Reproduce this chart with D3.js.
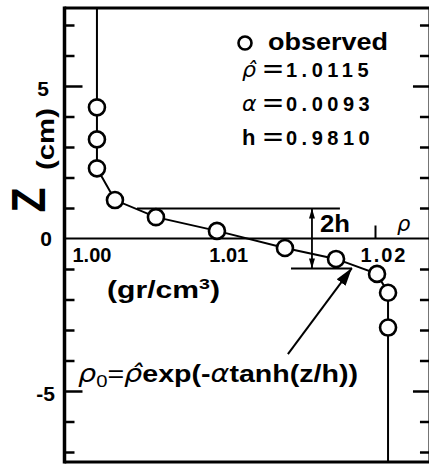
<!DOCTYPE html>
<html>
<head>
<meta charset="utf-8">
<script src="https://cdn.jsdelivr.net/npm/d3@7"></script>
<style>
  body { margin: 0; background: #fff; }
  svg { display: block; }
  text { font-family: "Liberation Sans", Arial, sans-serif; font-weight: bold; fill: #000; }
  .sym { font-family: "DejaVu Sans", sans-serif; font-style: italic; font-weight: normal; }
</style>
</head>
<body>
<svg id="chart" width="429" height="465"></svg>
<script>
// Observed density profile across the interface
const obsRho = [1.00209, 1.00209, 1.00209, 1.00325, 1.00589, 1.00982, 1.01420, 1.01749, 1.02013, 1.02084, 1.02084];
const obsZ   = [4.30, 3.25, 2.30, 1.26, 0.70, 0.25, -0.31, -0.67, -1.16, -1.78, -2.92];

// Fitted profile line (runs frame-top to frame-bottom through the observations)
const fitRho = [1.00209, 1.00209, 1.00209, 1.00209, 1.00325, 1.00589, 1.00982, 1.01420, 1.01749, 1.02013, 1.02084, 1.02084, 1.02084];
const fitZ   = [7.56, 4.30, 3.25, 2.30, 1.26, 0.70, 0.25, -0.31, -0.67, -1.16, -1.78, -2.92, -7.33];

// Axis ticks and labels
const zMinorTicks = [-7, -6, -4, -3, -2, -1, 1, 2, 3, 4, 6, 7];
const zMajorTicks = [-5, 5];
const zLabels     = [5, 0, -5];
const rhoTicks    = [1.02];
const rhoLabelVals = [1.00, 1.01, 1.02];
const rhoLabels    = ["1.00", "1.01", "1.02"];

// Fit parameters shown in the legend
const paramSyms = ["\u03C1\u0302", "\u03B1", "h"];
const paramVals = ["1.0115", "0.0093", "0.9810"];
const hVal = 0.9810;

// Frame extents in data units
const zTop = 7.56, zBottom = -7.33;
const rhoLeft = 1.00, rhoRight = 1.02354;

const svg = d3.select("#chart");
const x = d3.scaleLinear().domain([1.00, 1.02]).range([64.5, 375]);
const y = d3.scaleLinear().domain([-5, 5]).range([391, 86]);

const defs = svg.append("defs");
defs.append("marker").attr("id", "smallHead")
  .attr("markerUnits", "userSpaceOnUse")
  .attr("viewBox", "0 0 10 6").attr("refX", 10).attr("refY", 3)
  .attr("markerWidth", 10).attr("markerHeight", 6)
  .attr("orient", "auto-start-reverse")
  .append("path").attr("d", "M0,0 L10,3 L0,6 Z").attr("fill", "#000");
defs.append("marker").attr("id", "bigHead")
  .attr("markerUnits", "userSpaceOnUse")
  .attr("viewBox", "0 0 18 11").attr("refX", 18).attr("refY", 5.5)
  .attr("markerWidth", 18).attr("markerHeight", 11)
  .attr("orient", "auto")
  .append("path").attr("d", "M0,0 L18,5.5 L0,11 Z").attr("fill", "#000");

// Frame: left, top, bottom edges
const xl = x(rhoLeft), xr = x(rhoRight), yt = y(zTop), yb = y(zBottom);
svg.append("line").attr("x1", xl).attr("x2", xl).attr("y1", yt - 1.5).attr("y2", yb + 1.5)
  .attr("stroke", "#000").attr("stroke-width", 3.5);
svg.append("line").attr("x1", xl).attr("x2", xr).attr("y1", yt).attr("y2", yt)
  .attr("stroke", "#000").attr("stroke-width", 3);
svg.append("line").attr("x1", xl).attr("x2", xr).attr("y1", yb).attr("y2", yb)
  .attr("stroke", "#000").attr("stroke-width", 3);
svg.append("line").attr("x1", xr).attr("x2", xr).attr("y1", yt).attr("y2", yb)
  .attr("stroke", "#000").attr("stroke-width", 3);

// Inward ticks on both vertical edges
function tickGroup(axis, tx) {
  const g = svg.append("g").attr("transform", `translate(${tx},0)`).call(axis);
  g.select(".domain").remove();
  g.selectAll(".tick line").attr("stroke", "#000").attr("stroke-width", 2.5);
  g.selectAll(".tick text").remove();
  return g;
}
tickGroup(d3.axisRight(y).tickValues(zMinorTicks).tickSize(10).tickFormat(""), xl);
tickGroup(d3.axisRight(y).tickValues(zMajorTicks).tickSize(18).tickFormat(""), xl);
tickGroup(d3.axisLeft(y).tickValues(zMinorTicks).tickSize(10).tickFormat(""), xr);
tickGroup(d3.axisLeft(y).tickValues(zMajorTicks).tickSize(17).tickFormat(""), xr);

// z = 0 reference line and density tick
svg.append("line").attr("x1", xl).attr("x2", xr).attr("y1", y(0)).attr("y2", y(0))
  .attr("stroke", "#000").attr("stroke-width", 2.2);
const gx = svg.append("g").attr("transform", `translate(0,${y(0)})`)
  .call(d3.axisTop(x).tickValues(rhoTicks).tickSize(13).tickFormat(""));
gx.select(".domain").remove();
gx.selectAll(".tick line").attr("stroke", "#000").attr("stroke-width", 2);

// z tick labels
svg.selectAll(".zlab").data(zLabels).join("text").attr("class", "zlab")
  .attr("x", d => d < 0 ? 55 : (d === 0 ? 52 : 49)).attr("y", d => y(d) + (d === 0 ? 7 : 10))
  .attr("text-anchor", "end").attr("font-size", 21)
  .text(d => d < 0 ? "-" + Math.abs(d) : d);

// density tick labels
svg.selectAll(".rlab").data(rhoLabelVals).join("text").attr("class", "rlab")
  .attr("x", (d, i) => i === 0 ? x(d) + 8 : x(d) + 9)
  .attr("y", y(0) + 23)
  .attr("text-anchor", (d, i) => i === 0 ? "start" : "middle")
  .attr("font-size", 20)
  .attr("letter-spacing", (d, i) => i === 2 ? 2 : 0)
  .text((d, i) => rhoLabels[i]);

// Axis titles (vertical axis title reads bottom-to-top)
svg.append("text").attr("transform", "translate(45,200) rotate(-90)")
  .attr("text-anchor", "middle").attr("font-size", 48)
  .attr("textLength", 25).attr("lengthAdjust", "spacingAndGlyphs").text("Z");
svg.append("text").attr("transform", "translate(54,139) rotate(-90)")
  .attr("text-anchor", "middle").attr("font-size", 24)
  .attr("textLength", 62).attr("lengthAdjust", "spacingAndGlyphs").text("(cm)");
const unit = svg.append("text").attr("x", 107).attr("y", 298).attr("font-size", 23)
  .attr("textLength", 113).attr("lengthAdjust", "spacingAndGlyphs");
unit.append("tspan").text("(gr/cm");
unit.append("tspan").attr("font-size", 15).attr("dy", -9).text("3");
unit.append("tspan").attr("dy", 9).text(")");
svg.append("text").attr("class", "sym").attr("x", 397).attr("y", 231)
  .attr("font-size", 21).text("\u03C1");

// 2h thickness marker
const xArrow = 1.01594;
svg.append("line").attr("x1", x(1.00467)).attr("x2", x(1.01774))
  .attr("y1", y(hVal)).attr("y2", y(hVal)).attr("stroke", "#000").attr("stroke-width", 2);
svg.append("line").attr("x1", x(1.01459)).attr("x2", x(1.01852))
  .attr("y1", y(-hVal)).attr("y2", y(-hVal)).attr("stroke", "#000").attr("stroke-width", 2);
svg.append("line").attr("x1", x(xArrow)).attr("x2", x(xArrow))
  .attr("y1", y(hVal)).attr("y2", y(-hVal)).attr("stroke", "#000").attr("stroke-width", 1.8)
  .attr("marker-start", "url(#smallHead)").attr("marker-end", "url(#smallHead)");
svg.append("text").attr("x", 320).attr("y", 232).attr("font-size", 23)
  .attr("textLength", 30).attr("lengthAdjust", "spacingAndGlyphs").text("2h");

// Fitted profile
const line = d3.line().x(d => x(d[0])).y(d => y(d[1]));
svg.append("path").datum(fitRho.map((r, i) => [r, fitZ[i]]))
  .attr("d", line).attr("fill", "none").attr("stroke", "#000").attr("stroke-width", 2);

// Observations
svg.selectAll(".obs").data(obsRho.map((r, i) => [r, obsZ[i]])).join("circle").attr("class", "obs")
  .attr("cx", d => x(d[0])).attr("cy", d => y(d[1])).attr("r", 8)
  .attr("fill", "#fff").attr("stroke", "#000").attr("stroke-width", 2.6);

// Formula and its pointer
svg.append("line").attr("x1", x(1.01439)).attr("y1", y(-3.79))
  .attr("x2", x(1.01851)).attr("y2", y(-0.97))
  .attr("stroke", "#000").attr("stroke-width", 2).attr("marker-end", "url(#bigHead)");
const f = svg.append("text").attr("x", 78).attr("y", 382).attr("font-size", 24)
  .attr("textLength", 280).attr("lengthAdjust", "spacingAndGlyphs");
f.append("tspan").attr("class", "sym").text("\u03C1");
f.append("tspan").attr("font-size", 17).attr("dy", 5).attr("font-weight", "normal").text("0");
f.append("tspan").attr("dy", -5).attr("font-weight", "normal").text("=");
f.append("tspan").attr("class", "sym").text("\u03C1\u0302");
f.append("tspan").text("exp(-");
f.append("tspan").attr("class", "sym").text("\u03B1");
f.append("tspan").text("tanh(z/h))");

// Legend
svg.append("circle").attr("cx", 245).attr("cy", 43).attr("r", 6.5)
  .attr("fill", "#fff").attr("stroke", "#000").attr("stroke-width", 2.6);
svg.append("text").attr("x", 268).attr("y", 50).attr("font-size", 24)
  .attr("textLength", 120).attr("lengthAdjust", "spacingAndGlyphs").text("observed");
const rowY = [77, 111, 145];
paramSyms.forEach((s, i) => {
  svg.append("text").attr("class", i < 2 ? "sym" : null)
    .attr("x", 242).attr("y", rowY[i]).attr("font-size", 22).text(s);
  svg.append("text").attr("x", 263).attr("y", rowY[i] - 1).attr("font-size", 21)
    .attr("font-weight", "normal").attr("textLength", 20).attr("lengthAdjust", "spacingAndGlyphs").text("=");
  svg.append("text").attr("x", 286).attr("y", rowY[i]).attr("font-size", 20)
    .attr("letter-spacing", 4.5).text(paramVals[i]);
});
</script>
</body>
</html>
